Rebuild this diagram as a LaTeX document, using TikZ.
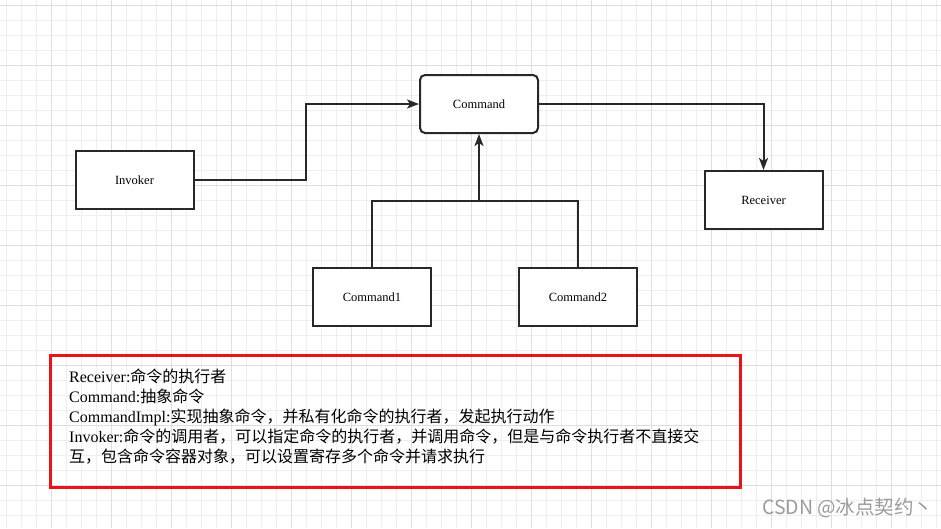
\documentclass[tikz,border=0pt]{standalone}
\usepackage{fontspec}
\setmainfont{Liberation Serif}
\newfontfamily\cjk{Noto Sans CJK SC}
\usepackage{xcolor}
\usetikzlibrary{arrows.meta, positioning}
\definecolor{inkgray}{RGB}{40,40,40}
\definecolor{gridminor}{RGB}{238,238,238}
\definecolor{gridmajor}{RGB}{222,222,222}
\definecolor{notered}{RGB}{235,20,20}
\definecolor{markgray}{RGB}{155,155,155}
\newcommand{\zh}[1]{{\cjk #1}}

\begin{document}
\begin{tikzpicture}[
  x=1pt, y=-1pt,
  >={Stealth[length=12pt, width=9pt, inset=3pt]},
  cls/.style={draw=inkgray, line width=2pt, fill=white, minimum width=118pt, minimum height=58pt,
              inner sep=0pt, font=\fontsize{12.5}{14}\selectfont},
  link/.style={draw=inkgray, line width=2pt},
  note/.style={draw=notered, line width=2.8pt}
]
\useasboundingbox (0,0) rectangle (941,528);
% background grid
\foreach \gx in {6.7,21.7,...,941} \draw[gridminor, line width=0.8pt] (\gx,0) -- (\gx,528);
\foreach \gy in {5,20,...,528} \draw[gridminor, line width=0.8pt] (0,\gy) -- (941,\gy);
\foreach \gx in {51.7,111.7,...,941} \draw[gridmajor, line width=1pt] (\gx,0) -- (\gx,528);
\foreach \gy in {5,65,...,528} \draw[gridmajor, line width=1pt] (0,\gy) -- (941,\gy);

\node[cls, rounded corners=5pt] (command) at (479,104) {Command};
\node[cls] (invoker) at (134.5,180) {Invoker};
\node[cls] (receiver) at (763.5,200) {Receiver};
\node[cls] (cmd1) at (372,297) {Command1};
\node[cls] (cmd2) at (578,297) {Command2};

\coordinate (join) at (479,201);
\draw[link, ->] (invoker.east) -- (306,180) |- (command.west);
\draw[link, ->] (command.east) -| (receiver.north);
\draw[link] (cmd1.north) |- (join) -| (cmd2.north);
\draw[link, ->] (join) -- (command.south);

\node[note, minimum width=690pt, minimum height=132pt] (legend) at (395.5,421.5) {};
\node[anchor=north west, inner sep=0pt, align=left, font=\fontsize{16}{20}\selectfont] (legtext) at (69,369)
  {Receiver:\zh{命令的执行者}\\
   Command:\zh{抽象命令}\\
   CommandImpl:\zh{实现抽象命令，并私有化命令的执行者，发起执行动作}\\
   Invoker:\zh{命令的调用者，可以指定命令的执行者，并调用命令，但是与命令执行者不直接交}\\
   \zh{互，包含命令容器对象，可以设置寄存多个命令并请求执行}};

\node[text=markgray, font=\cjk\fontsize{19.5}{22}\selectfont, anchor=east] (mark) at (937,508) {CSDN @冰点契约丶};
\end{tikzpicture}
\end{document}
